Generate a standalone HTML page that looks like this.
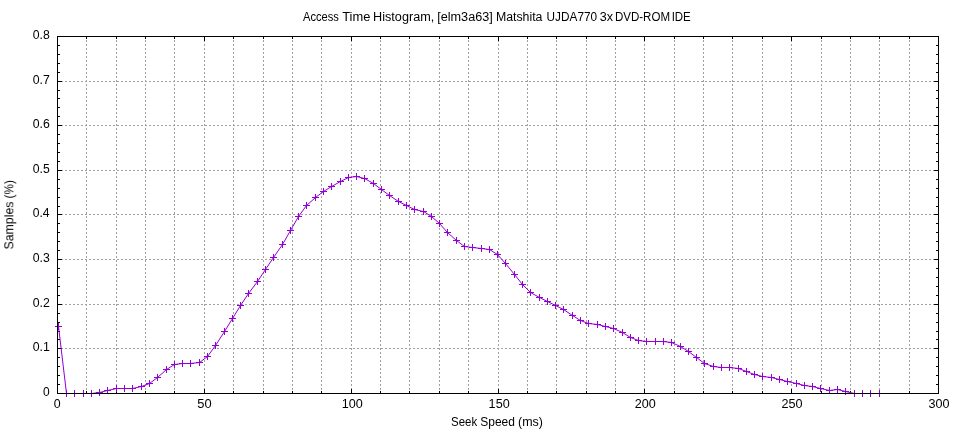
<!DOCTYPE html>
<html><head><meta charset="utf-8"><title>Access Time Histogram</title>
<style>html,body{margin:0;padding:0;background:#fff;width:960px;height:432px;overflow:hidden}svg{display:block}text{font-family:"Liberation Sans",sans-serif}</style>
</head><body><svg width="960" height="432" viewBox="0 0 960 432"><rect width="960" height="432" fill="#fff"/><g stroke="#a0a0a0" stroke-width="1" stroke-dasharray="2 2" shape-rendering="crispEdges"><line x1="86.5" y1="36" x2="86.5" y2="393"/><line x1="116.5" y1="36" x2="116.5" y2="393"/><line x1="145.5" y1="36" x2="145.5" y2="393"/><line x1="174.5" y1="36" x2="174.5" y2="393"/><line x1="204.5" y1="36" x2="204.5" y2="393"/><line x1="233.5" y1="36" x2="233.5" y2="393"/><line x1="263.5" y1="36" x2="263.5" y2="393"/><line x1="292.5" y1="36" x2="292.5" y2="393"/><line x1="321.5" y1="36" x2="321.5" y2="393"/><line x1="351.5" y1="36" x2="351.5" y2="393"/><line x1="380.5" y1="36" x2="380.5" y2="393"/><line x1="409.5" y1="36" x2="409.5" y2="393"/><line x1="439.5" y1="36" x2="439.5" y2="393"/><line x1="468.5" y1="36" x2="468.5" y2="393"/><line x1="498.5" y1="36" x2="498.5" y2="393"/><line x1="527.5" y1="36" x2="527.5" y2="393"/><line x1="556.5" y1="36" x2="556.5" y2="393"/><line x1="586.5" y1="36" x2="586.5" y2="393"/><line x1="615.5" y1="36" x2="615.5" y2="393"/><line x1="644.5" y1="36" x2="644.5" y2="393"/><line x1="674.5" y1="36" x2="674.5" y2="393"/><line x1="703.5" y1="36" x2="703.5" y2="393"/><line x1="732.5" y1="36" x2="732.5" y2="393"/><line x1="762.5" y1="36" x2="762.5" y2="393"/><line x1="791.5" y1="36" x2="791.5" y2="393"/><line x1="821.5" y1="36" x2="821.5" y2="393"/><line x1="850.5" y1="36" x2="850.5" y2="393"/><line x1="879.5" y1="36" x2="879.5" y2="393"/><line x1="909.5" y1="36" x2="909.5" y2="393"/><line x1="57" y1="348.5" x2="938" y2="348.5"/><line x1="57" y1="304.5" x2="938" y2="304.5"/><line x1="57" y1="259.5" x2="938" y2="259.5"/><line x1="57" y1="214.5" x2="938" y2="214.5"/><line x1="57" y1="170.5" x2="938" y2="170.5"/><line x1="57" y1="125.5" x2="938" y2="125.5"/><line x1="57" y1="81.5" x2="938" y2="81.5"/></g><g fill="#000" shape-rendering="crispEdges"><rect x="57" y="389" width="1" height="4"/><rect x="57" y="37" width="1" height="4"/><rect x="86" y="391" width="1" height="2"/><rect x="86" y="37" width="1" height="2"/><rect x="116" y="391" width="1" height="2"/><rect x="116" y="37" width="1" height="2"/><rect x="145" y="391" width="1" height="2"/><rect x="145" y="37" width="1" height="2"/><rect x="174" y="391" width="1" height="2"/><rect x="174" y="37" width="1" height="2"/><rect x="204" y="389" width="1" height="4"/><rect x="204" y="37" width="1" height="4"/><rect x="233" y="391" width="1" height="2"/><rect x="233" y="37" width="1" height="2"/><rect x="263" y="391" width="1" height="2"/><rect x="263" y="37" width="1" height="2"/><rect x="292" y="391" width="1" height="2"/><rect x="292" y="37" width="1" height="2"/><rect x="321" y="391" width="1" height="2"/><rect x="321" y="37" width="1" height="2"/><rect x="351" y="389" width="1" height="4"/><rect x="351" y="37" width="1" height="4"/><rect x="380" y="391" width="1" height="2"/><rect x="380" y="37" width="1" height="2"/><rect x="409" y="391" width="1" height="2"/><rect x="409" y="37" width="1" height="2"/><rect x="439" y="391" width="1" height="2"/><rect x="439" y="37" width="1" height="2"/><rect x="468" y="391" width="1" height="2"/><rect x="468" y="37" width="1" height="2"/><rect x="498" y="389" width="1" height="4"/><rect x="498" y="37" width="1" height="4"/><rect x="527" y="391" width="1" height="2"/><rect x="527" y="37" width="1" height="2"/><rect x="556" y="391" width="1" height="2"/><rect x="556" y="37" width="1" height="2"/><rect x="586" y="391" width="1" height="2"/><rect x="586" y="37" width="1" height="2"/><rect x="615" y="391" width="1" height="2"/><rect x="615" y="37" width="1" height="2"/><rect x="644" y="389" width="1" height="4"/><rect x="644" y="37" width="1" height="4"/><rect x="674" y="391" width="1" height="2"/><rect x="674" y="37" width="1" height="2"/><rect x="703" y="391" width="1" height="2"/><rect x="703" y="37" width="1" height="2"/><rect x="732" y="391" width="1" height="2"/><rect x="732" y="37" width="1" height="2"/><rect x="762" y="391" width="1" height="2"/><rect x="762" y="37" width="1" height="2"/><rect x="791" y="389" width="1" height="4"/><rect x="791" y="37" width="1" height="4"/><rect x="821" y="391" width="1" height="2"/><rect x="821" y="37" width="1" height="2"/><rect x="850" y="391" width="1" height="2"/><rect x="850" y="37" width="1" height="2"/><rect x="879" y="391" width="1" height="2"/><rect x="879" y="37" width="1" height="2"/><rect x="909" y="391" width="1" height="2"/><rect x="909" y="37" width="1" height="2"/><rect x="938" y="389" width="1" height="4"/><rect x="938" y="37" width="1" height="4"/><rect x="58" y="393" width="4" height="1"/><rect x="934" y="393" width="4" height="1"/><rect x="58" y="384" width="2" height="1"/><rect x="936" y="384" width="2" height="1"/><rect x="58" y="375" width="2" height="1"/><rect x="936" y="375" width="2" height="1"/><rect x="58" y="366" width="2" height="1"/><rect x="936" y="366" width="2" height="1"/><rect x="58" y="357" width="2" height="1"/><rect x="936" y="357" width="2" height="1"/><rect x="58" y="348" width="4" height="1"/><rect x="934" y="348" width="4" height="1"/><rect x="58" y="339" width="2" height="1"/><rect x="936" y="339" width="2" height="1"/><rect x="58" y="331" width="2" height="1"/><rect x="936" y="331" width="2" height="1"/><rect x="58" y="322" width="2" height="1"/><rect x="936" y="322" width="2" height="1"/><rect x="58" y="313" width="2" height="1"/><rect x="936" y="313" width="2" height="1"/><rect x="58" y="304" width="4" height="1"/><rect x="934" y="304" width="4" height="1"/><rect x="58" y="295" width="2" height="1"/><rect x="936" y="295" width="2" height="1"/><rect x="58" y="286" width="2" height="1"/><rect x="936" y="286" width="2" height="1"/><rect x="58" y="277" width="2" height="1"/><rect x="936" y="277" width="2" height="1"/><rect x="58" y="268" width="2" height="1"/><rect x="936" y="268" width="2" height="1"/><rect x="58" y="259" width="4" height="1"/><rect x="934" y="259" width="4" height="1"/><rect x="58" y="250" width="2" height="1"/><rect x="936" y="250" width="2" height="1"/><rect x="58" y="241" width="2" height="1"/><rect x="936" y="241" width="2" height="1"/><rect x="58" y="232" width="2" height="1"/><rect x="936" y="232" width="2" height="1"/><rect x="58" y="223" width="2" height="1"/><rect x="936" y="223" width="2" height="1"/><rect x="58" y="214" width="4" height="1"/><rect x="934" y="214" width="4" height="1"/><rect x="58" y="206" width="2" height="1"/><rect x="936" y="206" width="2" height="1"/><rect x="58" y="197" width="2" height="1"/><rect x="936" y="197" width="2" height="1"/><rect x="58" y="188" width="2" height="1"/><rect x="936" y="188" width="2" height="1"/><rect x="58" y="179" width="2" height="1"/><rect x="936" y="179" width="2" height="1"/><rect x="58" y="170" width="4" height="1"/><rect x="934" y="170" width="4" height="1"/><rect x="58" y="161" width="2" height="1"/><rect x="936" y="161" width="2" height="1"/><rect x="58" y="152" width="2" height="1"/><rect x="936" y="152" width="2" height="1"/><rect x="58" y="143" width="2" height="1"/><rect x="936" y="143" width="2" height="1"/><rect x="58" y="134" width="2" height="1"/><rect x="936" y="134" width="2" height="1"/><rect x="58" y="125" width="4" height="1"/><rect x="934" y="125" width="4" height="1"/><rect x="58" y="116" width="2" height="1"/><rect x="936" y="116" width="2" height="1"/><rect x="58" y="107" width="2" height="1"/><rect x="936" y="107" width="2" height="1"/><rect x="58" y="98" width="2" height="1"/><rect x="936" y="98" width="2" height="1"/><rect x="58" y="90" width="2" height="1"/><rect x="936" y="90" width="2" height="1"/><rect x="58" y="81" width="4" height="1"/><rect x="934" y="81" width="4" height="1"/><rect x="58" y="72" width="2" height="1"/><rect x="936" y="72" width="2" height="1"/><rect x="58" y="63" width="2" height="1"/><rect x="936" y="63" width="2" height="1"/><rect x="58" y="54" width="2" height="1"/><rect x="936" y="54" width="2" height="1"/><rect x="58" y="45" width="2" height="1"/><rect x="936" y="45" width="2" height="1"/><rect x="58" y="36" width="4" height="1"/><rect x="934" y="36" width="4" height="1"/></g><path d="M58.5,326.5 L66.5,393.5 L74.5,393.5 L83.5,393.5 L91.5,393.5 L99.5,392.5 L107.5,390.5 L116.5,388.5 L124.5,388.5 L132.5,388.5 L141.5,386.5 L149.5,383.5 L157.5,377.5 L166.5,369.5 L174.5,364.5 L182.5,363.5 L190.5,363.5 L199.5,362.5 L207.5,356.5 L215.5,345.5 L224.5,331.5 L232.5,318.5 L240.5,305.5 L248.5,293.5 L257.5,281.5 L265.5,269.5 L273.5,257.5 L282.5,244.5 L290.5,230.5 L298.5,216.5 L306.5,205.5 L315.5,197.5 L323.5,191.5 L331.5,186.5 L340.5,181.5 L348.5,177.5 L356.5,176.5 L364.5,178.5 L373.5,183.5 L381.5,189.5 L389.5,195.5 L398.5,201.5 L406.5,205.5 L414.5,209.5 L423.5,211.5 L431.5,216.5 L439.5,223.5 L447.5,232.5 L456.5,240.5 L464.5,246.5 L472.5,247.5 L481.5,248.5 L489.5,249.5 L497.5,254.5 L505.5,263.5 L514.5,274.5 L522.5,284.5 L530.5,292.5 L539.5,297.5 L547.5,301.5 L555.5,305.5 L563.5,309.5 L572.5,315.5 L580.5,320.5 L588.5,323.5 L597.5,324.5 L605.5,326.5 L613.5,328.5 L622.5,332.5 L630.5,337.5 L638.5,340.5 L646.5,341.5 L655.5,341.5 L663.5,341.5 L671.5,342.5 L680.5,346.5 L688.5,351.5 L696.5,357.5 L704.5,363.5 L713.5,366.5 L721.5,367.5 L729.5,367.5 L738.5,368.5 L746.5,371.5 L754.5,374.5 L762.5,376.5 L771.5,377.5 L779.5,379.5 L787.5,381.5 L796.5,383.5 L804.5,385.5 L812.5,386.5 L820.5,388.5 L829.5,390.5 L837.5,389.5 L845.5,391.5 L854.5,393.5 L862.5,393.5 L870.5,393.5 L879.5,393.5" fill="none" stroke="#9400d3" stroke-width="1" stroke-linejoin="round"/><path d="M55.0,326.5h7M58.5,323.0v7M63.0,393.5h7M66.5,390.0v7M71.0,393.5h7M74.5,390.0v7M80.0,393.5h7M83.5,390.0v7M88.0,393.5h7M91.5,390.0v7M96.0,392.5h7M99.5,389.0v7M104.0,390.5h7M107.5,387.0v7M113.0,388.5h7M116.5,385.0v7M121.0,388.5h7M124.5,385.0v7M129.0,388.5h7M132.5,385.0v7M138.0,386.5h7M141.5,383.0v7M146.0,383.5h7M149.5,380.0v7M154.0,377.5h7M157.5,374.0v7M163.0,369.5h7M166.5,366.0v7M171.0,364.5h7M174.5,361.0v7M179.0,363.5h7M182.5,360.0v7M187.0,363.5h7M190.5,360.0v7M196.0,362.5h7M199.5,359.0v7M204.0,356.5h7M207.5,353.0v7M212.0,345.5h7M215.5,342.0v7M221.0,331.5h7M224.5,328.0v7M229.0,318.5h7M232.5,315.0v7M237.0,305.5h7M240.5,302.0v7M245.0,293.5h7M248.5,290.0v7M254.0,281.5h7M257.5,278.0v7M262.0,269.5h7M265.5,266.0v7M270.0,257.5h7M273.5,254.0v7M279.0,244.5h7M282.5,241.0v7M287.0,230.5h7M290.5,227.0v7M295.0,216.5h7M298.5,213.0v7M303.0,205.5h7M306.5,202.0v7M312.0,197.5h7M315.5,194.0v7M320.0,191.5h7M323.5,188.0v7M328.0,186.5h7M331.5,183.0v7M337.0,181.5h7M340.5,178.0v7M345.0,177.5h7M348.5,174.0v7M353.0,176.5h7M356.5,173.0v7M361.0,178.5h7M364.5,175.0v7M370.0,183.5h7M373.5,180.0v7M378.0,189.5h7M381.5,186.0v7M386.0,195.5h7M389.5,192.0v7M395.0,201.5h7M398.5,198.0v7M403.0,205.5h7M406.5,202.0v7M411.0,209.5h7M414.5,206.0v7M420.0,211.5h7M423.5,208.0v7M428.0,216.5h7M431.5,213.0v7M436.0,223.5h7M439.5,220.0v7M444.0,232.5h7M447.5,229.0v7M453.0,240.5h7M456.5,237.0v7M461.0,246.5h7M464.5,243.0v7M469.0,247.5h7M472.5,244.0v7M478.0,248.5h7M481.5,245.0v7M486.0,249.5h7M489.5,246.0v7M494.0,254.5h7M497.5,251.0v7M502.0,263.5h7M505.5,260.0v7M511.0,274.5h7M514.5,271.0v7M519.0,284.5h7M522.5,281.0v7M527.0,292.5h7M530.5,289.0v7M536.0,297.5h7M539.5,294.0v7M544.0,301.5h7M547.5,298.0v7M552.0,305.5h7M555.5,302.0v7M560.0,309.5h7M563.5,306.0v7M569.0,315.5h7M572.5,312.0v7M577.0,320.5h7M580.5,317.0v7M585.0,323.5h7M588.5,320.0v7M594.0,324.5h7M597.5,321.0v7M602.0,326.5h7M605.5,323.0v7M610.0,328.5h7M613.5,325.0v7M619.0,332.5h7M622.5,329.0v7M627.0,337.5h7M630.5,334.0v7M635.0,340.5h7M638.5,337.0v7M643.0,341.5h7M646.5,338.0v7M652.0,341.5h7M655.5,338.0v7M660.0,341.5h7M663.5,338.0v7M668.0,342.5h7M671.5,339.0v7M677.0,346.5h7M680.5,343.0v7M685.0,351.5h7M688.5,348.0v7M693.0,357.5h7M696.5,354.0v7M701.0,363.5h7M704.5,360.0v7M710.0,366.5h7M713.5,363.0v7M718.0,367.5h7M721.5,364.0v7M726.0,367.5h7M729.5,364.0v7M735.0,368.5h7M738.5,365.0v7M743.0,371.5h7M746.5,368.0v7M751.0,374.5h7M754.5,371.0v7M759.0,376.5h7M762.5,373.0v7M768.0,377.5h7M771.5,374.0v7M776.0,379.5h7M779.5,376.0v7M784.0,381.5h7M787.5,378.0v7M793.0,383.5h7M796.5,380.0v7M801.0,385.5h7M804.5,382.0v7M809.0,386.5h7M812.5,383.0v7M817.0,388.5h7M820.5,385.0v7M826.0,390.5h7M829.5,387.0v7M834.0,389.5h7M837.5,386.0v7M842.0,391.5h7M845.5,388.0v7M851.0,393.5h7M854.5,390.0v7M859.0,393.5h7M862.5,390.0v7M867.0,393.5h7M870.5,390.0v7M876.0,393.5h7M879.5,390.0v7" fill="none" stroke="#9400d3" stroke-width="1"/><rect x="57.5" y="36.5" width="881" height="357" fill="none" stroke="#000" stroke-width="1" shape-rendering="crispEdges"/><g font-family='"Liberation Sans", sans-serif' font-size="12.5" fill="#000" style="filter:grayscale(1)"><text x="303.06" y="21" textLength="35.83" lengthAdjust="spacingAndGlyphs">Access</text><text x="342.19" y="21" textLength="28.19" lengthAdjust="spacingAndGlyphs">Time</text><text x="373.09" y="21" textLength="61.16" lengthAdjust="spacingAndGlyphs">Histogram,</text><text x="437.19" y="21" textLength="55.62" lengthAdjust="spacingAndGlyphs">[elm3a63]</text><text x="495.91" y="21" textLength="46.58" lengthAdjust="spacingAndGlyphs">Matshita</text><text x="546.60" y="21" textLength="50.46" lengthAdjust="spacingAndGlyphs">UJDA770</text><text x="599.80" y="21" textLength="13.25" lengthAdjust="spacingAndGlyphs">3x</text><text x="614.88" y="21" textLength="55.16" lengthAdjust="spacingAndGlyphs">DVD-ROM</text><text x="671.64" y="21" textLength="19.15" lengthAdjust="spacingAndGlyphs">IDE</text><text x="43.02" y="396" textLength="6.66" lengthAdjust="spacingAndGlyphs">0</text><text x="32.71" y="351" textLength="17.11" lengthAdjust="spacingAndGlyphs">0.1</text><text x="32.71" y="307" textLength="17.11" lengthAdjust="spacingAndGlyphs">0.2</text><text x="32.71" y="262" textLength="17.06" lengthAdjust="spacingAndGlyphs">0.3</text><text x="32.72" y="217" textLength="16.85" lengthAdjust="spacingAndGlyphs">0.4</text><text x="32.71" y="173" textLength="17.00" lengthAdjust="spacingAndGlyphs">0.5</text><text x="32.71" y="128" textLength="17.06" lengthAdjust="spacingAndGlyphs">0.6</text><text x="32.71" y="84" textLength="17.11" lengthAdjust="spacingAndGlyphs">0.7</text><text x="32.71" y="39" textLength="17.06" lengthAdjust="spacingAndGlyphs">0.8</text><text x="53.70" y="408" textLength="6.89" lengthAdjust="spacingAndGlyphs">0</text><text x="197.38" y="408" textLength="14.33" lengthAdjust="spacingAndGlyphs">50</text><text x="341.74" y="408" textLength="21.07" lengthAdjust="spacingAndGlyphs">100</text><text x="488.64" y="408" textLength="21.07" lengthAdjust="spacingAndGlyphs">150</text><text x="634.70" y="408" textLength="21.01" lengthAdjust="spacingAndGlyphs">200</text><text x="781.49" y="408" textLength="21.12" lengthAdjust="spacingAndGlyphs">250</text><text x="928.50" y="408" textLength="21.01" lengthAdjust="spacingAndGlyphs">300</text><text x="451.10" y="425.5" textLength="26.10" lengthAdjust="spacingAndGlyphs">Seek</text><text x="480.27" y="425.5" textLength="34.69" lengthAdjust="spacingAndGlyphs">Speed</text><text x="518.05" y="425.5" textLength="24.88" lengthAdjust="spacingAndGlyphs">(ms)</text><g transform="translate(13.3,0) rotate(-90)"><text x="-249.54" y="0" textLength="47.97" lengthAdjust="spacingAndGlyphs">Samples</text><text x="-198.40" y="0" textLength="18.19" lengthAdjust="spacingAndGlyphs">(%)</text></g></g></svg></body></html>
